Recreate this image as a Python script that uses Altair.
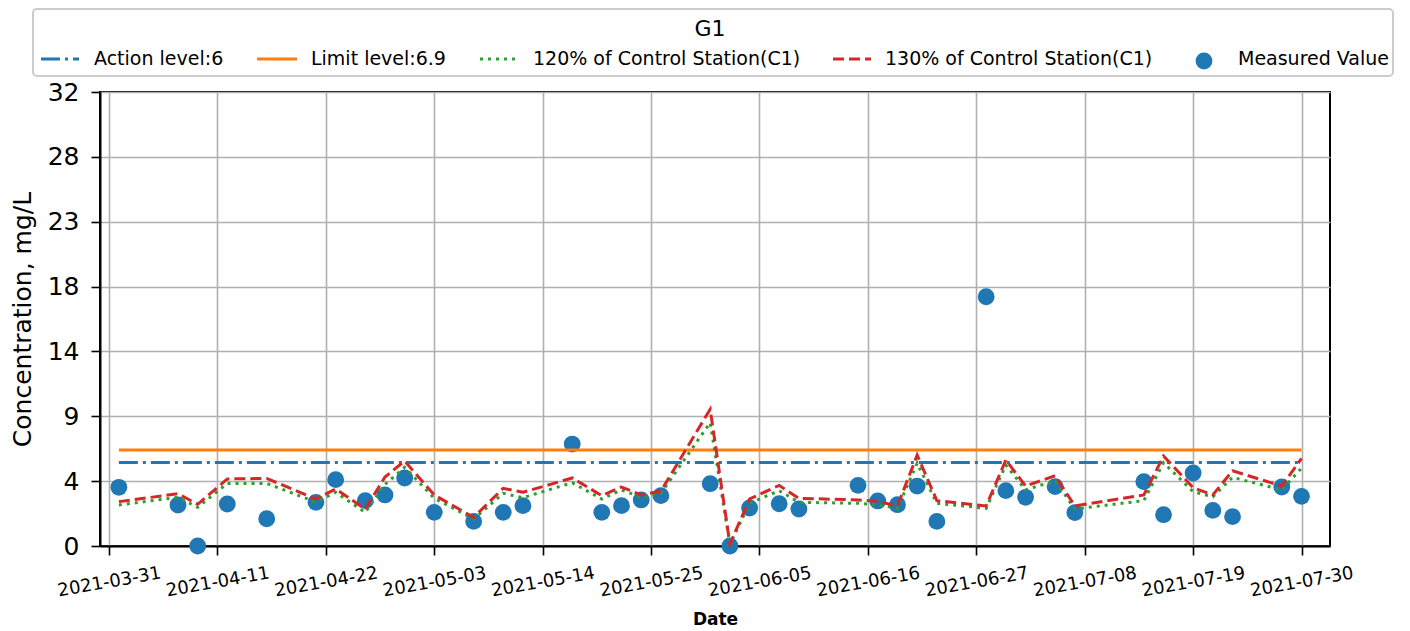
import json
import altair as alt
import pandas as pd

# ---------------- data ----------------
dates = ["2021-04-01", "2021-04-07", "2021-04-09", "2021-04-12", "2021-04-16",
         "2021-04-21", "2021-04-23", "2021-04-26", "2021-04-28", "2021-04-30",
         "2021-05-03", "2021-05-07", "2021-05-10", "2021-05-12", "2021-05-17",
         "2021-05-20", "2021-05-22", "2021-05-24", "2021-05-26", "2021-05-31",
         "2021-06-02", "2021-06-04", "2021-06-07", "2021-06-09", "2021-06-15",
         "2021-06-17", "2021-06-19", "2021-06-21", "2021-06-23", "2021-06-28",
         "2021-06-30", "2021-07-02", "2021-07-05", "2021-07-07", "2021-07-14",
         "2021-07-16", "2021-07-19", "2021-07-21", "2021-07-23", "2021-07-28",
         "2021-07-30"]

measured = [4.22, 2.95, 0.0, 3.02, 1.96,
            3.14, 4.77, 3.26, 3.67, 4.89,
            2.42, 1.77, 2.42, 2.90, 7.33,
            2.42, 2.90, 3.31, 3.62, 4.48,
            0.0, 2.73, 3.04, 2.66, 4.36,
            3.24, 2.97, 4.31, 1.77, 17.92,
            3.98, 3.50, 4.27, 2.40, 4.63,
            2.25, 5.25, 2.56, 2.11, 4.24,
            3.57]

control_120 = [2.95, 3.50, 2.78, 4.50, 4.50,
               3.16, 3.86, 2.42, 4.43, 5.66,
               3.43, 1.94, 3.79, 3.47, 4.55,
               3.38, 4.03, 3.50, 3.79, 8.87,
               0.12, 3.07, 3.98, 3.14, 3.07,
               2.97, 2.71, 5.95, 3.07, 2.71,
               5.82, 4.03, 4.70, 2.66, 3.26,
               5.99, 3.90, 3.54, 4.94, 4.03,
               5.60]

control_130 = [3.19, 3.76, 3.00, 4.82, 4.86,
               3.38, 4.10, 2.66, 4.96, 6.11,
               3.67, 2.06, 4.15, 3.86, 4.89,
               3.62, 4.24, 3.67, 3.95, 9.83,
               0.14, 3.38, 4.36, 3.43, 3.31,
               3.21, 2.88, 6.54, 3.26, 2.88,
               6.18, 4.31, 5.05, 2.88, 3.67,
               6.47, 4.19, 3.67, 5.41, 4.31,
               6.30]

action_level = 6
limit_level = 6.9

x_tick_dates = ["2021-03-31", "2021-04-11", "2021-04-22", "2021-05-03",
                "2021-05-14", "2021-05-25", "2021-06-05", "2021-06-16",
                "2021-06-27", "2021-07-08", "2021-07-19", "2021-07-30"]
y_tick_labels = ["0", "4", "9", "14", "18", "23", "28", "32"]

legend_title = "G1"
legend_labels = ["Action level:6", "Limit level:6.9",
                 "120% of Control Station(C1)", "130% of Control Station(C1)",
                 "Measured Value"]

# ---------------- styling / layout ----------------
FONT = "DejaVu Sans"
BLUE, ORANGE, GREEN, RED = "#1f77b4", "#ff7f0e", "#2ca02c", "#d62728"
W, H = 1230, 454
Y_MAX = 32.64


def ms(ts):
    return int(pd.Timestamp(ts, tz="UTC").timestamp() * 1000)


ref = pd.Timestamp("2021-03-31", tz="UTC")
x_domain = [int((ref - pd.Timedelta(days=0.914)).timestamp() * 1000),
            int((ref + pd.Timedelta(days=123.89)).timestamp() * 1000)]
x_ticks = [ms(d) for d in x_tick_dates]
y_ticks = [i * Y_MAX / 7 for i in range(8)]

xenc = alt.X(
    "date:T",
    scale=alt.Scale(type="utc", domain=x_domain, nice=False),
    axis=alt.Axis(
        values=x_ticks,
        labelExpr="utcFormat(datum.value, '%Y-%m-%d')",
        labelAngle=350, labelAlign="center", labelBaseline="middle",
        labelPadding=27, labelFontSize=18, labelOverlap=False,
        title="Date", titleFontSize=17, titleFontWeight="bold",
        titleX=W / 2, titleY=73, titleBaseline="middle", titleAlign="center",
        grid=True, tickCount=12,
    ),
)
yenc = alt.Y(
    "value:Q",
    scale=alt.Scale(domain=[0, Y_MAX], nice=False, zero=True),
    axis=alt.Axis(
        values=y_ticks,
        labelExpr=json.dumps(y_tick_labels) + "[round(datum.value*7/" + str(Y_MAX) + ")]",
        labelFontSize=25, labelPadding=12,
        title="Concentration, mg/L", titleFontSize=25, titleFontWeight="normal",
        titleX=-78, titleY=H / 2, titleAngle=270, titleBaseline="middle",
        titleAlign="center", grid=True,
    ),
)

df_meas = pd.DataFrame({"date": dates, "value": measured})
df_120 = pd.DataFrame({"date": dates, "value": control_120})
df_130 = pd.DataFrame({"date": dates, "value": control_130})
df_action = pd.DataFrame({"date": [dates[0]], "date_end": [dates[-1]], "value": [action_level]})
df_limit = pd.DataFrame({"date": [dates[0]], "date_end": [dates[-1]], "value": [limit_level]})
one = pd.DataFrame({"k": [0]})

points = alt.Chart(df_meas).mark_circle(size=283, color=BLUE, opacity=1).encode(x=xenc, y=yenc)
action = alt.Chart(df_action).mark_rule(color=BLUE, strokeWidth=3, strokeDash=[19, 5, 3, 5]).encode(
    x=xenc, x2="date_end:T", y=yenc)
limit = alt.Chart(df_limit).mark_rule(color=ORANGE, strokeWidth=3).encode(
    x=xenc, x2="date_end:T", y=yenc)
l120 = alt.Chart(df_120).mark_line(color=GREEN, strokeWidth=3, strokeDash=[3, 5]).encode(x=xenc, y=yenc)
l130 = alt.Chart(df_130).mark_line(color=RED, strokeWidth=3, strokeDash=[11, 5]).encode(x=xenc, y=yenc)

# ---------------- legend (drawn above the plot) ----------------
LY = -33
legend_layers = [
    alt.Chart(one).mark_rect(fill="white", stroke="#cccccc", strokeWidth=2, cornerRadius=4).encode(
        x=alt.value(-67), x2=alt.value(1293), y=alt.value(-83), y2=alt.value(-16)),
    alt.Chart(one).mark_text(font=FONT, fontSize=22, align="center", baseline="middle", color="black").encode(
        x=alt.value(610), y=alt.value(-63), text=alt.value(legend_title)),
]
sym_specs = [
    (-59, -21, BLUE, [19, 5, 3, 5], -6),
    (157, 197, ORANGE, None, 211),
    (380, 418, GREEN, [3, 5], 433),
    (733, 771, RED, [11, 5], 785),
]
for (x0, x1, col, dash, tx), lab in zip(sym_specs, legend_labels[:4]):
    kw = dict(color=col, strokeWidth=3)
    if dash:
        kw["strokeDash"] = dash
    legend_layers.append(alt.Chart(one).mark_rule(**kw).encode(
        x=alt.value(x0), x2=alt.value(x1), y=alt.value(LY)))
    legend_layers.append(alt.Chart(one).mark_text(font=FONT, fontSize=19, align="left",
                                                  baseline="middle", color="black").encode(
        x=alt.value(tx), y=alt.value(LY), text=alt.value(lab)))
legend_layers.append(alt.Chart(one).mark_circle(size=283, color=BLUE, opacity=1).encode(
    x=alt.value(1104), y=alt.value(-31)))
legend_layers.append(alt.Chart(one).mark_text(font=FONT, fontSize=19, align="left",
                                              baseline="middle", color="black").encode(
    x=alt.value(1138), y=alt.value(LY), text=alt.value(legend_labels[4])))

chart = alt.layer(points, action, limit, l120, l130, *legend_layers).properties(
    width=W, height=H,
    autosize=alt.AutoSizeParams(type="none"),
    padding={"left": 92, "top": 84, "right": 72, "bottom": 84},
).configure(font=FONT).configure_view(
    stroke="black", strokeWidth=2
).configure_axis(
    gridColor="#b0b0b0", gridWidth=1.6, gridOpacity=1,
    domainColor="black", domainWidth=2,
    tickColor="black", tickWidth=1.6, tickSize=9,
    labelColor="black", titleColor="black",
    labelFont=FONT, titleFont=FONT,
)

chart.save("out.html", embed_options={"renderer": "svg", "actions": False})
